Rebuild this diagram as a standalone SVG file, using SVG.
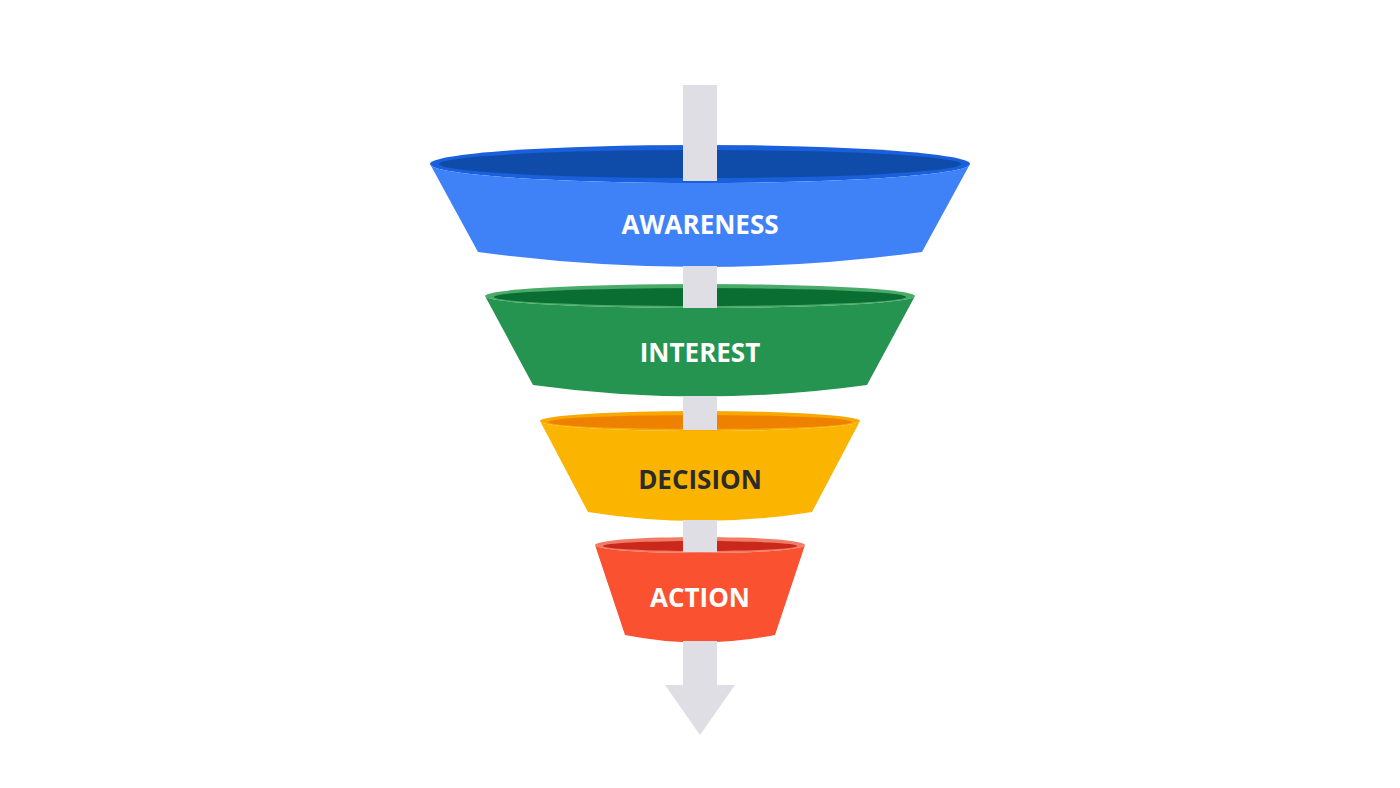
<svg xmlns="http://www.w3.org/2000/svg" width="1400" height="788" viewBox="0 0 1400 788">
<style>
.shaft{fill:#dfdee4}
.lbl{font-family:"Open Sans","Liberation Sans",sans-serif;font-weight:700;font-size:26px;text-anchor:middle;dominant-baseline:central}
</style>
<rect width="1400" height="788" fill="#fff"/>
<g id="connectors">
<rect class="shaft" x="683" y="85" width="34" height="96"/>
</g>
<g id="awareness">
<ellipse cx="700" cy="164" rx="270" ry="19" fill="#1a5fdc"/>
<ellipse cx="700" cy="164" rx="261" ry="14" fill="#0f4ba8"/>
<rect class="shaft" x="683" y="85" width="34" height="96"/>
<path d="M430,164 A270,19 0 0 0 970,164 L922,252 Q700,282 478,252 Z" fill="#3f82f8"/>
<text class="lbl" x="700" y="224" fill="#fff">AWARENESS</text>
</g>
<g id="interest">
<ellipse cx="700" cy="296" rx="215" ry="12" fill="#4aaa6a"/>
<ellipse cx="700" cy="297" rx="206" ry="9" fill="#0a6e32"/>
<rect class="shaft" x="683" y="266" width="34" height="42"/>
<path d="M485,296 A215,12 0 0 0 915,296 L867,385 Q700,408 533,385 Z" fill="#259450"/>
<text class="lbl" x="700" y="352" fill="#fff">INTEREST</text>
</g>
<g id="decision">
<ellipse cx="700" cy="421" rx="160" ry="10" fill="#f8a800"/>
<ellipse cx="700" cy="422" rx="152" ry="7" fill="#ee8100"/>
<rect class="shaft" x="683" y="396" width="34" height="34"/>
<path d="M540,421 A160,10 0 0 0 860,421 L812,512 Q700,530 588,512 Z" fill="#fbb400"/>
<text class="lbl" x="700" y="479" fill="#2b2b2b">DECISION</text>
</g>
<g id="action">
<ellipse cx="700" cy="545" rx="105" ry="8" fill="#f07b66"/>
<ellipse cx="700" cy="546" rx="97" ry="5" fill="#c9281b"/>
<rect class="shaft" x="683" y="520" width="34" height="32"/>
<path d="M595,545 A105,8 0 0 0 805,545 L775,635 Q700,650 625,635 Z" fill="#fa5230"/>
<text class="lbl" x="700" y="597" fill="#fff">ACTION</text>
</g>
<g id="arrow">
<rect class="shaft" x="683" y="641" width="34" height="46"/>
<polygon class="shaft" points="665,685 735,685 700,735"/>
</g>
</svg>
